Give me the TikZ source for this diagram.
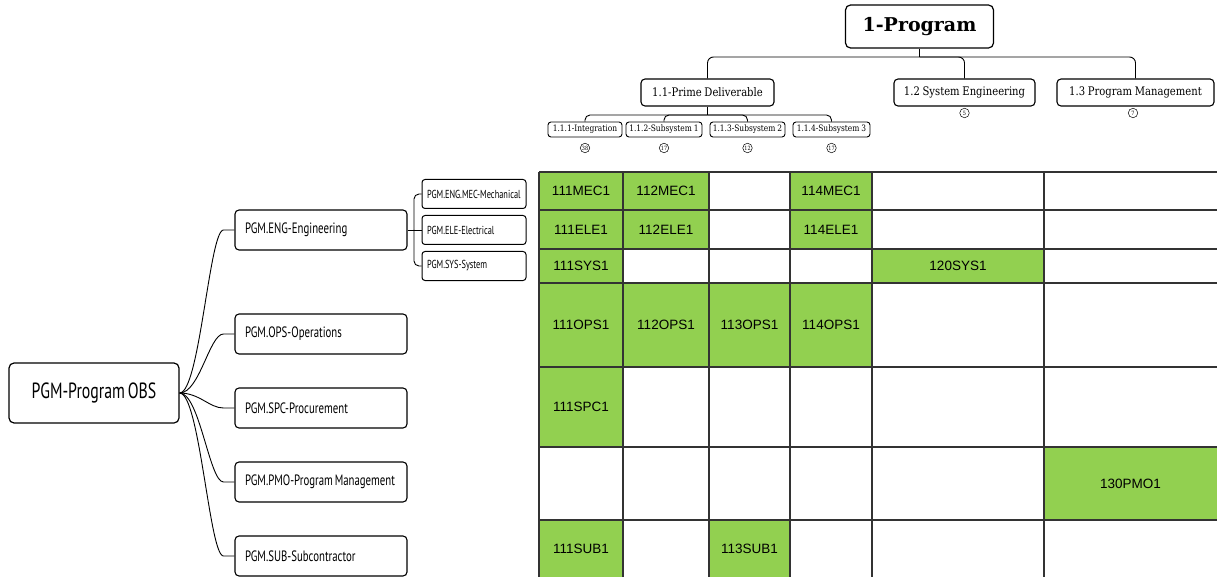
\documentclass[tikz,border=0pt]{standalone}
\usepackage{fontspec}
\setmainfont{Liberation Sans}
\newfontfamily\serifbold{DejaVu Serif}
\newfontfamily\serifc[FakeStretch=0.85,WordSpace=0.85]{DejaVu Serif}
\newfontfamily\obsfont[FakeStretch=0.72,WordSpace=0.65]{PT Sans}
\definecolor{cellgreen}{HTML}{92D050}
\definecolor{gridline}{HTML}{333333}
\newcommand{\lefttext}[2]{\makebox[#1pt][l]{#2}}
\begin{document}
\begin{tikzpicture}[x=1pt,y=-1pt,
  wbs/.style={draw, rounded corners=4, line width=1.1pt, fill=white, inner sep=0pt,
    minimum height=27, font=\serifc\fontsize{11.8}{13}\selectfont},
  wbssub/.style={wbs, rounded corners=3, line width=0.9pt, minimum height=15,
    font=\serifc\fontsize{8.8}{9}\selectfont},
  count/.style={draw, circle, line width=0.5pt, minimum size=9.5, inner sep=0pt,
    font=\serifc\fontsize{5.8}{6}\selectfont},
  obsbox/.style={draw, rounded corners=4, line width=1.1pt, fill=white, inner ysep=0pt,
    inner xsep=10pt, minimum width=172, minimum height=40,
    font=\obsfont\fontsize{15}{17}\selectfont},
  obssub/.style={draw, rounded corners=3, line width=1pt, fill=white, inner ysep=0pt,
    inner xsep=5pt, minimum width=104, minimum height=29,
    font=\obsfont\fontsize{11.6}{13}\selectfont},
  link/.style={line width=0.9pt},
  cell/.style={fill=cellgreen, inner sep=0pt, font=\fontsize{13.5}{16}\selectfont}
]
\useasboundingbox (0,0) rectangle (1217,577);
\fill[white] (0,0) rectangle (1217,577);

% ---------- WBS tree ----------
\node[draw, rounded corners=5, line width=1.2pt, fill=white, minimum width=148, minimum height=43,
  inner sep=0pt, font=\serifbold\bfseries\fontsize{19}{22}\selectfont] (prog) at (919.5,26.5) {1-Program};
\node[wbs, minimum width=133] (p11) at (707.5,92.5) {1.1-Prime Deliverable};
\node[wbs, minimum width=141] (p12) at (964.5,92.5) {1.2 System Engineering};
\node[wbs, minimum width=157] (p13) at (1135.5,92.5) {1.3 Program Management};

\node[wbssub, minimum width=74] (p111) at (585,129.5) {1.1.1-Integration};
\node[wbssub, minimum width=76] (p112) at (664,129.5) {1.1.2-Subsystem 1};
\node[wbssub, minimum width=75] (p113) at (747.5,129.5) {1.1.3-Subsystem 2};
\node[wbssub, minimum width=77] (p114) at (831.5,129.5) {1.1.4-Subsystem 3};

\node[count] (c111) at (585,148) {38};
\node[count] (c112) at (664,148) {17};
\node[count] (c113) at (747.5,148) {12};
\node[count] (c114) at (831.5,148) {17};
\node[count] (c12) at (964.5,113) {5};
\node[count] (c13) at (1133,113) {7};

\coordinate (bar1) at (919.5,57);
\coordinate (bar2) at (707.5,115);
\draw[link] (prog.south) -- (bar1);
\draw[link, rounded corners=6] (bar1) -| (p11.north);
\draw[link, rounded corners=6] (bar1) -| (p12.north);
\draw[link, rounded corners=6] (bar1) -| (p13.north);
\draw[link] (p11.south) -- (bar2);
\draw[link, rounded corners=5] (bar2) -| (p111.north);
\draw[link, rounded corners=5] (bar2) -| (p112.north);
\draw[link, rounded corners=5] (bar2) -| (p113.north);
\draw[link, rounded corners=5] (bar2) -| (p114.north);

% ---------- OBS tree ----------
\node[draw, rounded corners=5, line width=1.2pt, fill=white, minimum width=170, minimum height=60,
  inner sep=0pt, font=\obsfont\fontsize{22}{24}\selectfont] (obs) at (94,393) {PGM-Program OBS};
\node[obsbox] (eng) at (321,230) {\lefttext{152}{PGM.ENG-Engineering}};
\node[obsbox] (ops) at (321,334) {\lefttext{152}{PGM.OPS-Operations}};
\node[obsbox] (spc) at (321,408) {\lefttext{152}{PGM.SPC-Procurement}};
\node[obsbox] (pmo) at (321,482) {\lefttext{152}{PGM.PMO-Program Management}};
\node[obsbox] (sub) at (321,556) {\lefttext{152}{PGM.SUB-Subcontractor}};

\node[obssub] (mec) at (474,194) {\lefttext{94}{PGM.ENG.MEC-Mechanical}};
\node[obssub] (ele) at (474,230) {\lefttext{94}{PGM.ELE-Electrical}};
\node[obssub] (sys) at (474,266) {\lefttext{94}{PGM.SYS-System}};

\foreach \n in {eng,ops,spc,pmo,sub}{
  \draw[link] (obs.east) .. controls +(20,0) and +(-14,0) .. ([xshift=-11pt]\n.west) -- (\n.west);
}
\coordinate (ebar) at (414,230);
\draw[link] (eng.east) -- (ele.west);
\draw[link, rounded corners=5] (ebar) |- (mec.west);
\draw[link, rounded corners=5] (ebar) |- (sys.west);

% ---------- Matrix ----------
% columns: 539,623,709,790,872,1044,1217 ; rows: 172,210,249,283,367,447,520,577
\node[cell, minimum width=84, minimum height=38] (m111mec) at (581,191) {111MEC1};
\node[cell, minimum width=86, minimum height=38] (m112mec) at (666,191) {112MEC1};
\node[cell, minimum width=82, minimum height=38] (m114mec) at (831,191) {114MEC1};
\node[cell, minimum width=84, minimum height=39] (m111ele) at (581,229.5) {111ELE1};
\node[cell, minimum width=86, minimum height=39] (m112ele) at (666,229.5) {112ELE1};
\node[cell, minimum width=82, minimum height=39] (m114ele) at (831,229.5) {114ELE1};
\node[cell, minimum width=84, minimum height=34] (m111sys) at (581,266) {111SYS1};
\node[cell, minimum width=172, minimum height=34] (m120sys) at (958,266) {120SYS1};
\node[cell, minimum width=84, minimum height=84] (m111ops) at (581,325) {111OPS1};
\node[cell, minimum width=86, minimum height=84] (m112ops) at (666,325) {112OPS1};
\node[cell, minimum width=81, minimum height=84] (m113ops) at (749.5,325) {113OPS1};
\node[cell, minimum width=82, minimum height=84] (m114ops) at (831,325) {114OPS1};
\node[cell, minimum width=84, minimum height=80] (m111spc) at (581,407) {111SPC1};
\node[cell, minimum width=173, minimum height=73] (m130pmo) at (1130.5,483.5) {130PMO1};
\node[cell, minimum width=84, minimum height=57] (m111sub) at (581,548.5) {111SUB1};
\node[cell, minimum width=81, minimum height=57] (m113sub) at (749.5,548.5) {113SUB1};

\foreach \gx in {539,623,709,790,872,1044}{
  \draw[gridline, line width=1.1pt] (\gx,172) -- (\gx,577);
}
\foreach \gy in {172,210,249,283,367,447,520}{
  \draw[gridline, line width=1.1pt] (539,\gy) -- (1217,\gy);
}
\end{tikzpicture}
\end{document}
